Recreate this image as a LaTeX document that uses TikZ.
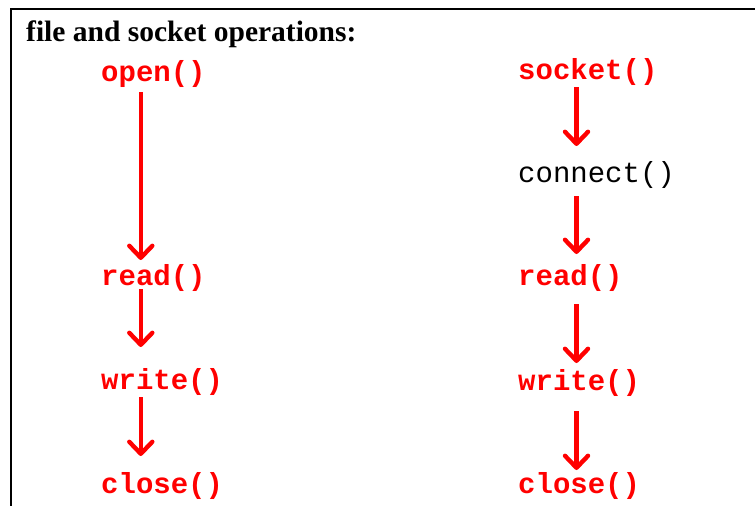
\documentclass[tikz,border=0pt]{standalone}
\usepackage{fontspec}
\setmainfont{Liberation Serif}
\newfontfamily\codefont{Liberation Mono}
\usetikzlibrary{arrows.meta}
\definecolor{callred}{RGB}{255,0,0}
\tikzset{
  call/.style={anchor=base west, inner sep=0pt, text=callred,
    font=\codefont\bfseries\fontsize{29}{30}\selectfont},
  plaincall/.style={anchor=base west, inner sep=0pt, text=black,
    font=\codefont\fontsize{29}{30}\selectfont},
  flow/.style={draw=callred, line width=4.6pt,
    -{Straight Barb[length=12pt,width=23pt,line width=4.4pt,round]}},
  frame/.style={draw=black, line width=2.2pt}
}
\begin{document}
\begin{tikzpicture}[x=1pt, y=-1pt]
  \useasboundingbox (0,0) rectangle (755,506);
  % frame, open to the right and below
  \begin{scope}
    \clip (0,0) rectangle (755,506);
    \draw[frame] (760,9) -- (10.8,9) -- (10.8,520);
  \end{scope}

  \node[anchor=base west, inner sep=0pt, font=\bfseries\fontsize{29.5}{30}\selectfont]
    (title) at (26,41.5) {file and socket operations:};

  % column axes for the arrows
  \coordinate (colL) at (140.8,0);
  \coordinate (colR) at (576.5,0);

  % file operations
  \node[call] (open)   at (101,81)  {open()};
  \node[call] (fread)  at (101,285) {read()};
  \node[call] (fwrite) at (101,389) {write()};
  \node[call] (fclose) at (101,493) {close()};

  % socket operations
  \node[call]      (sock)   at (518,79)  {socket()};
  \node[plaincall] (conn)   at (518,182) {connect()};
  \node[call]      (sread)  at (518,285) {read()};
  \node[call]      (swrite) at (518,390) {write()};
  \node[call]      (sclose) at (518,493) {close()};

  \draw[flow] ([yshift=-11pt]open.base -| colL)   -- ([yshift=25pt]fread.base -| colL);
  \draw[flow] ([yshift=-4pt]fread.base -| colL)   -- ([yshift=42pt]fwrite.base -| colL);
  \draw[flow] ([yshift=-8pt]fwrite.base -| colL)  -- ([yshift=37pt]fclose.base -| colL);

  \draw[flow] ([yshift=-8pt]sock.base -| colR)    -- ([yshift=36pt]conn.base -| colR);
  \draw[flow] ([yshift=-14pt]conn.base -| colR)   -- ([yshift=31pt]sread.base -| colR);
  \draw[flow] ([yshift=-19pt]sread.base -| colR)  -- ([yshift=27pt]swrite.base -| colR);
  \draw[flow] ([yshift=-21pt]swrite.base -| colR) -- ([yshift=23pt]sclose.base -| colR);
\end{tikzpicture}
\end{document}
